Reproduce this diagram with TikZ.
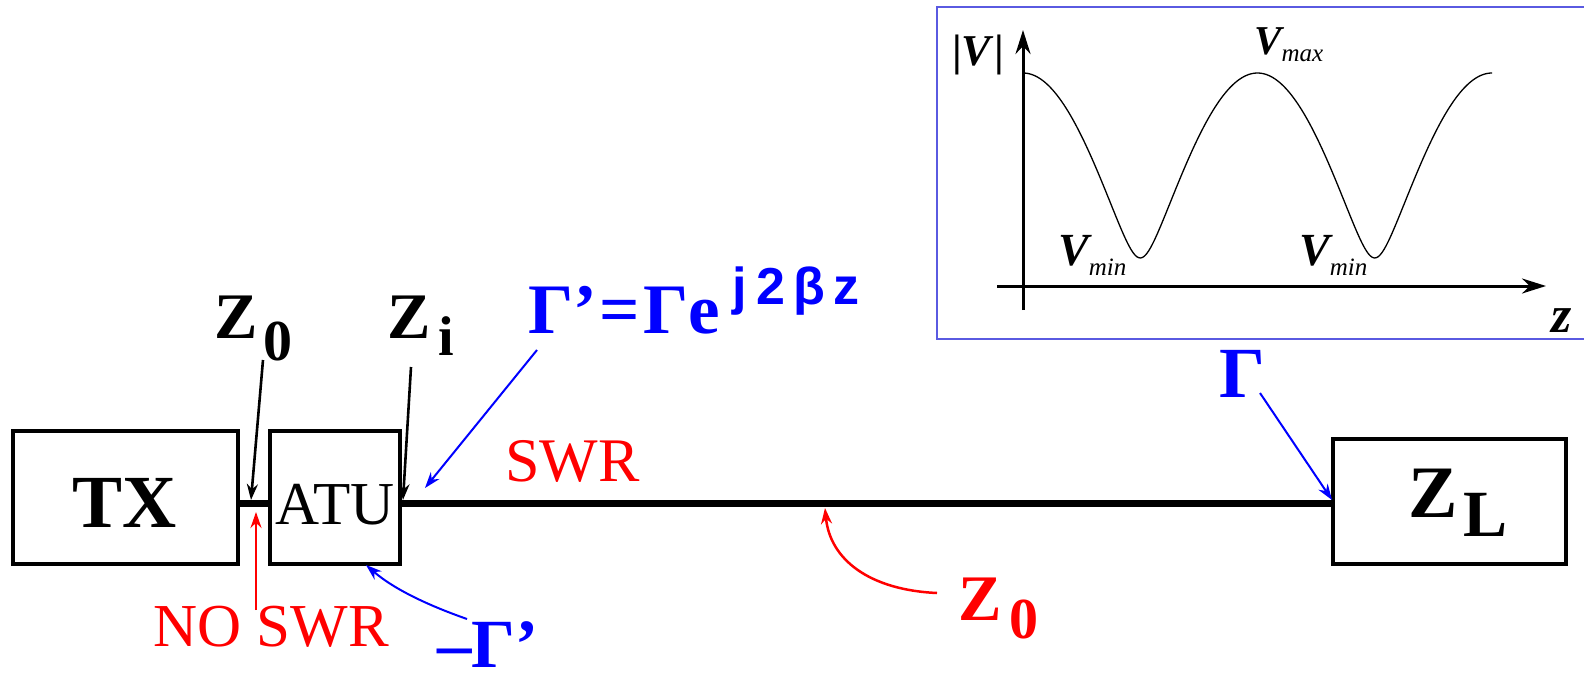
\documentclass[tikz,border=0pt]{standalone}
\usepackage{fontspec}
\setmainfont{Liberation Serif}
\newfontfamily\supfont{Liberation Sans}
\usetikzlibrary{arrows.meta}
\definecolor{myblue}{RGB}{0,0,255}
\definecolor{myred}{RGB}{255,0,0}
\definecolor{framecol}{RGB}{90,90,225}
\newcommand{\fs}[1]{\fontsize{#1}{#1}\selectfont}
\begin{document}
\begin{tikzpicture}[x=1pt,y=-1pt,
  box/.style={draw,line width=3.3pt,inner sep=0pt},
  lbl/.style={inner sep=0pt,anchor=base west},
  ptr/.style={-{Stealth[length=16pt,width=11pt]}},
  axisarrow/.style={line width=3pt,-{Stealth[length=24pt,width=15pt]}},
  blueptr/.style={myblue,line width=2pt,ptr},
  redptr/.style={myred,line width=2.5pt,ptr},
  blackptr/.style={black,line width=2.6pt,ptr}]
\useasboundingbox (0,0) rectangle (1584,677);

% boxes
\node[box,minimum width=225pt,minimum height=133pt] (tx) at (125.5,497.5) {};
\node[box,minimum width=130pt,minimum height=133pt] (atu) at (335,497.5) {};
\node[box,minimum width=233pt,minimum height=125pt] (zl) at (1449.5,501.5) {};
\node[inner sep=0pt] (txt) at (125,503) {\fs{75}\bfseries TX};
\node[inner sep=0pt] (atut) at (335,505) {\fs{61}ATU};
\node[lbl] (zlt) at (1408,517) {\fs{74}\bfseries Z\hspace{6pt}\raisebox{-19pt}{\fs{66}L}};

% lines
\draw[line width=7pt] (tx.east |- 0,503) -- (atu.west |- 0,503);
\draw[line width=7pt] (atu.east |- 0,503) -- (zl.west |- 0,503);

% black labels and pointers
\node[lbl] (z0) at (214,338) {\fs{65}\bfseries Z\hspace{6pt}\raisebox{-22pt}{\fs{58}0}};
\node[lbl] (zi) at (387,338) {\fs{65}\bfseries Z\hspace{8pt}\raisebox{-17pt}{\fs{56}i}};
\coordinate (z0s) at (263,360);
\coordinate (z0e) at (251,500);
\coordinate (zis) at (411,367);
\coordinate (zie) at (403,500);
\draw[blackptr] (z0s) -- (z0e);
\draw[blackptr] (zis) -- (zie);

% blue labels
\node[lbl,text=myblue] (gp) at (528,333) {\fs{71}\bfseries Γ’\hspace{3pt}=\hspace{3pt}Γe\hspace{12pt}\raisebox{29pt}{\supfont\bfseries\fs{52}j\hspace{10pt}2\hspace{8pt}β\hspace{8pt}z}};
\coordinate (gps) at (537,350);
\coordinate (gpe) at (425,488);
\draw[blueptr] (gps) -- (gpe);

\node[lbl,text=myblue] (mg) at (437,667) {\fs{69}\bfseries –Γ’};
\coordinate (mgs) at (467,619);
\coordinate (mge) at (366,565);
\draw[blueptr] (mgs) .. controls (430,606) and (395,590) .. (mge);

\node[lbl,text=myblue] (g) at (1219,397) {\fs{72}\bfseries Γ};
\coordinate (gs) at (1260,393);
\coordinate (ge) at (1332,500);
\draw[blueptr] (gs) -- (ge);

% red labels
\node[lbl,text=myred] (swr) at (505,481) {\fs{62}SWR};
\node[lbl,text=myred] (noswr) at (153,646) {\fs{61}NO SWR};
\coordinate (nss) at (256,610);
\coordinate (nse) at (256,512);
\draw[redptr] (nss) -- (nse);

\node[lbl,text=myred] (z0r) at (958,620) {\fs{65}\bfseries Z\hspace{8pt}\raisebox{-18pt}{\fs{58}0}};
\coordinate (z0rs) at (937,593);
\coordinate (z0re) at (825,508);
\draw[redptr] (z0rs) .. controls (870,590) and (830,560) .. (z0re);

% inset
\draw[framecol,line width=1.5pt] (1586,7) -- (937,7) -- (937,339) -- (1586,339);
\coordinate (ya) at (1023,310);
\coordinate (yb) at (1023,30);
\coordinate (xa) at (997,286);
\coordinate (xb) at (1546,286);
\draw[axisarrow] (ya) -- (yb);
\draw[axisarrow] (xa) -- (xb);
\draw[line width=1.3pt,smooth] plot[domain=1023:1492,samples=240]
  (\x,{258-185*(sqrt(1.49+1.4*cos((\x-1023)*1.5352))-0.3)/1.4});
\node[lbl] (vlab) at (952,66) {\fs{44}\bfseries |\textit{V}|};
\node[lbl] (vmax) at (1254,55) {\fs{41}\bfseries\itshape V\raisebox{-7pt}{\mdseries\fs{25}max}};
\node[lbl] (vmin1) at (1058,265) {\fs{46}\bfseries\itshape V\raisebox{-10pt}{\mdseries\fs{25}min}};
\node[lbl] (vmin2) at (1299,265) {\fs{46}\bfseries\itshape V\raisebox{-10pt}{\mdseries\fs{25}min}};
\node[lbl] (zax) at (1551,332) {\fs{52}\bfseries\itshape z};
\end{tikzpicture}
\end{document}
